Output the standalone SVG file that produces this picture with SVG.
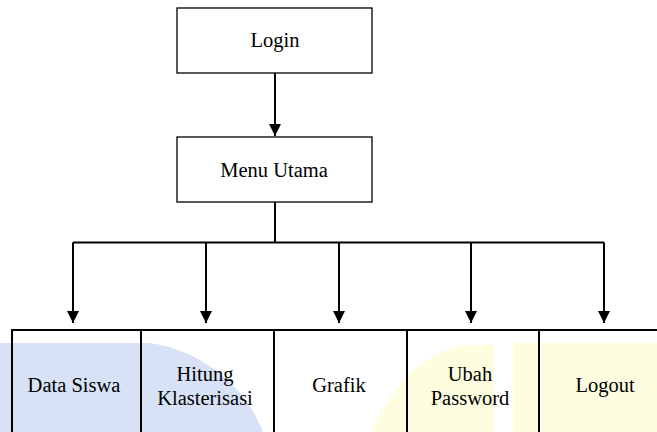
<svg xmlns="http://www.w3.org/2000/svg" width="657" height="432" viewBox="0 0 657 432">
<style>
.t{font-family:"Liberation Serif","Times New Roman",serif;font-size:20.5px;fill:#000;text-anchor:middle}
.top{fill:#fff;stroke:#000;stroke-width:1.3}
.bot{fill:none;stroke:#000;stroke-width:2}
.c{fill:none;stroke:#000;stroke-width:2}
</style>
<defs>
<marker id="ah" markerWidth="12" markerHeight="12" viewBox="0 0 12 12" refX="12" refY="6" orient="auto" markerUnits="userSpaceOnUse">
<path d="M0,0 L12,6 L0,12 Z" fill="#000"/>
</marker>
</defs>
<rect width="657" height="432" fill="#fff"/>
<g id="watermark">
<path d="M0,343 H150 C200,350 245,385 263,432 H0 Z" fill="#d7e2f7"/>
<path d="M372,432 C388,392 420,352 465,345 H494 V432 Z" fill="#fdfde0"/>
<path d="M513,343 H657 V432 H513 Z" fill="#fdfde0"/>
</g>
<g id="connectors">
<path class="c" d="M275,73 V136" marker-end="url(#ah)"/>
<path class="c" d="M275,202 V242.5"/>
<path class="c" d="M73,242.5 H604"/>
<path class="c" d="M73,242.5 V323" marker-end="url(#ah)"/>
<path class="c" d="M206,242.5 V323" marker-end="url(#ah)"/>
<path class="c" d="M339,242.5 V323" marker-end="url(#ah)"/>
<path class="c" d="M471,242.5 V323" marker-end="url(#ah)"/>
<path class="c" d="M604,242.5 V323" marker-end="url(#ah)"/>
</g>
<g id="login">
<rect class="top" x="177" y="8" width="195" height="65"/>
<text class="t" x="275" y="47">Login</text>
</g>
<g id="menu-utama">
<rect class="top" x="177" y="137" width="195" height="65"/>
<text class="t" x="274" y="177">Menu Utama</text>
</g>
<g id="data-siswa">
<rect class="bot" x="12" y="330" width="129" height="130"/>
<text class="t" x="74" y="392">Data Siswa</text>
</g>
<g id="hitung-klasterisasi">
<rect class="bot" x="141" y="330" width="133" height="130"/>
<text class="t" x="205" y="381">Hitung</text>
<text class="t" x="205" y="405">Klasterisasi</text>
</g>
<g id="grafik">
<rect class="bot" x="274" y="330" width="133" height="130"/>
<text class="t" x="339" y="392">Grafik</text>
</g>
<g id="ubah-password">
<rect class="bot" x="407" y="330" width="132" height="130"/>
<text class="t" x="470" y="381">Ubah</text>
<text class="t" x="470" y="405">Password</text>
</g>
<g id="logout">
<rect class="bot" x="539" y="330" width="140" height="130"/>
<text class="t" x="605" y="392">Logout</text>
</g>
</svg>
